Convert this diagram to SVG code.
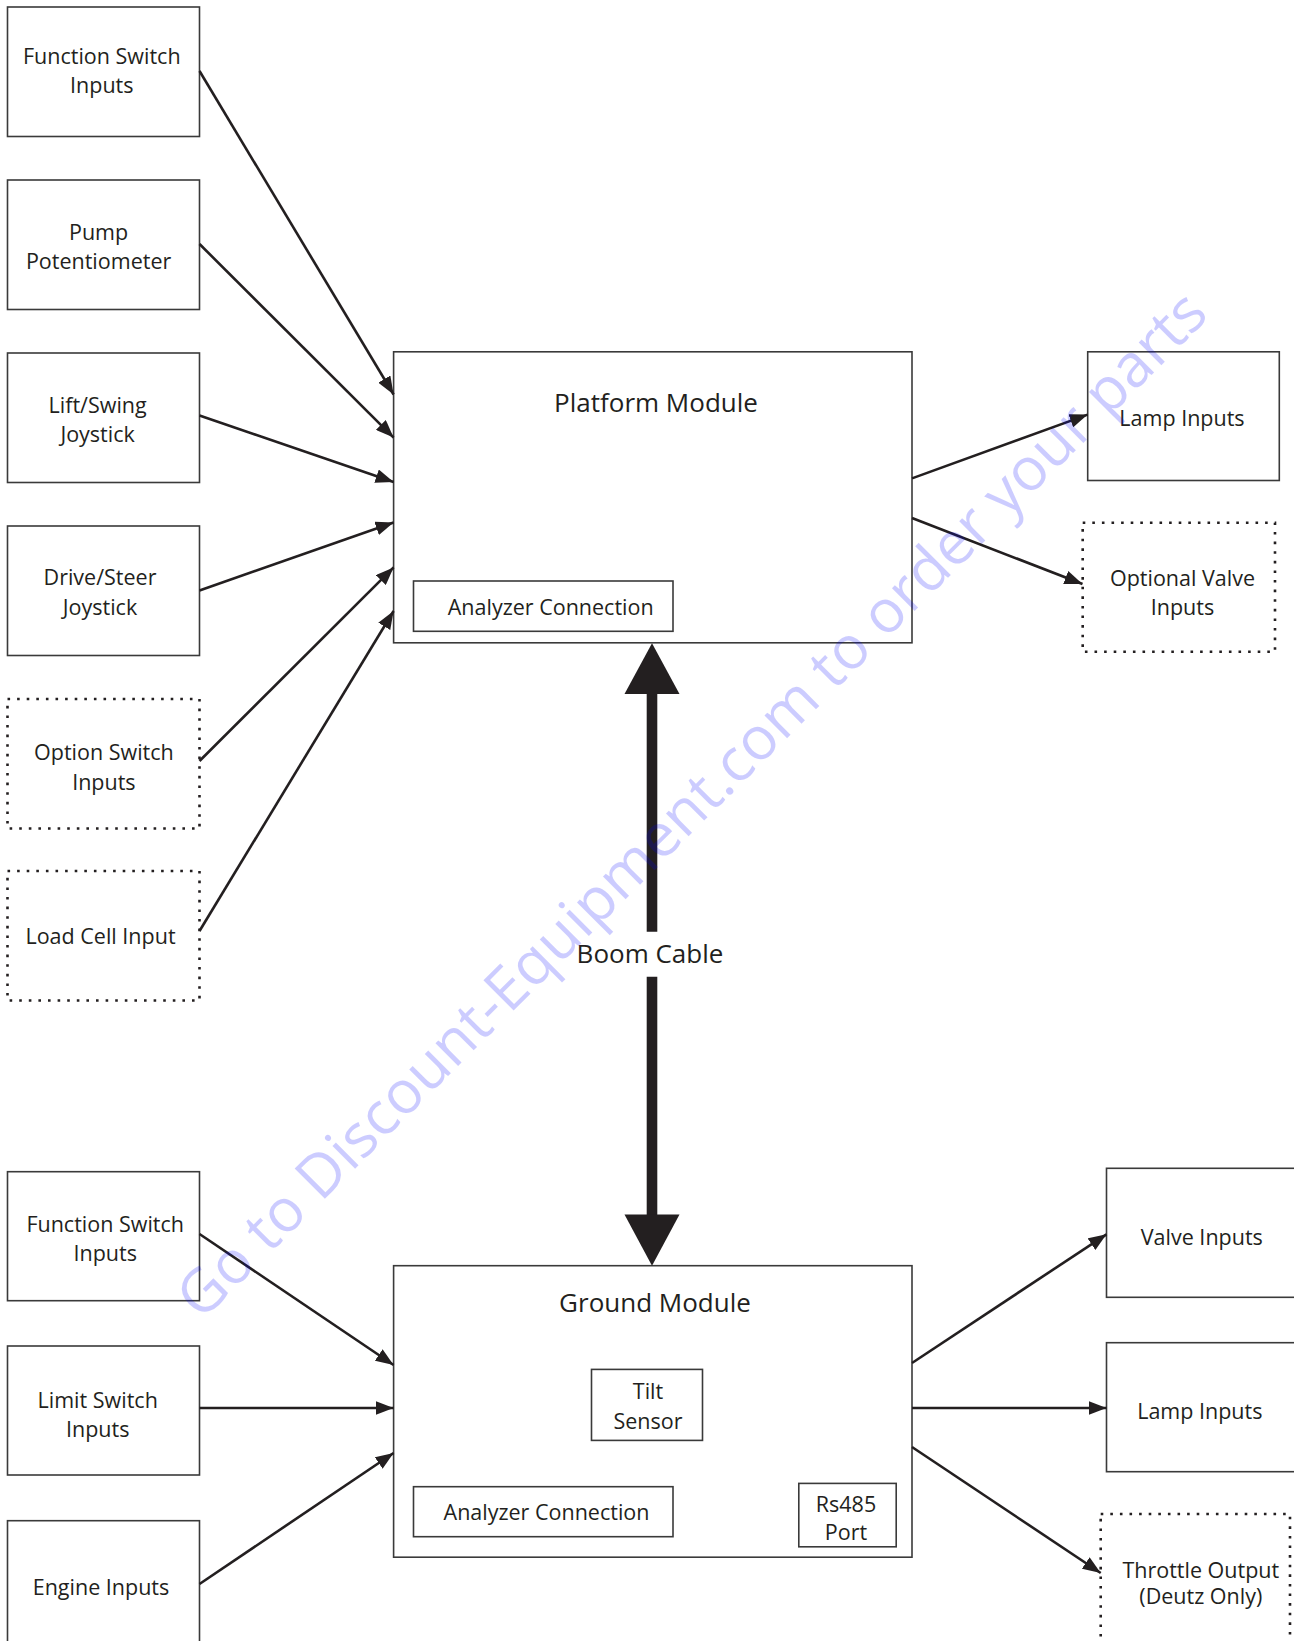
<svg xmlns="http://www.w3.org/2000/svg" width="1294" height="1641" viewBox="0 0 1294 1641">
<style>
.box{fill:#fff;stroke:#3a3a3a;stroke-width:1.6}
.dot{fill:#fff;stroke:#231f20;stroke-width:2.6;stroke-dasharray:2.6 7}
.t{font-family:"Open Sans","Noto Sans",sans-serif;font-size:21.5px;fill:#231f20;text-anchor:middle}
.title{font-size:26px}
.c{stroke:#231f20;stroke-width:2.6;fill:none;marker-end:url(#ah)}
.wm{font-family:"Open Sans","Noto Sans",sans-serif;font-size:60px;fill:#0000ff;fill-opacity:0.2;text-anchor:middle}
</style>
<defs>
<marker id="ah" markerUnits="userSpaceOnUse" markerWidth="20" markerHeight="14" refX="18" refY="7" orient="auto">
<path d="M0,0 L18,7 L0,14 Z" fill="#231f20"/>
</marker>
</defs>
<rect width="1294" height="1641" fill="#fff"/>

<g id="pf-function-switch"><rect class="box" x="7.5" y="7" width="192" height="129.5"/><text class="t" x="101.8" y="64">Function Switch</text><text class="t" x="101.8" y="93">Inputs</text></g>
<g id="pf-pump"><rect class="box" x="7.5" y="180" width="192" height="129.5"/><text class="t" x="98.6" y="240">Pump</text><text class="t" x="98.6" y="269">Potentiometer</text></g>
<g id="pf-lift"><rect class="box" x="7.5" y="353" width="192" height="129.5"/><text class="t" x="97.6" y="412.7">Lift/Swing</text><text class="t" x="97.6" y="442">Joystick</text></g>
<g id="pf-drive"><rect class="box" x="7.5" y="526" width="192" height="129.5"/><text class="t" x="100" y="585.4">Drive/Steer</text><text class="t" x="100" y="614.7">Joystick</text></g>
<g id="pf-option"><rect class="dot" x="7.5" y="699" width="192" height="129.5"/><text class="t" x="103.9" y="760">Option Switch</text><text class="t" x="103.9" y="789.5">Inputs</text></g>
<g id="pf-loadcell"><rect class="dot" x="7.5" y="871" width="192" height="129.5"/><text class="t" x="100.5" y="943.5">Load Cell Input</text></g>

<g id="platform-module"><rect class="box" x="393.6" y="351.8" width="518.4" height="291"/><text class="t title" x="656" y="411.7">Platform Module</text>
<g id="pf-analyzer"><rect class="box" x="413.5" y="581" width="259.5" height="50.3"/><text class="t" x="550.7" y="615">Analyzer Connection</text></g></g>

<g id="pf-lamp"><rect class="box" x="1087.7" y="351.8" width="191.6" height="128.7"/><text class="t" x="1182" y="426">Lamp Inputs</text></g>
<g id="pf-optional-valve"><rect class="dot" x="1082.7" y="522.7" width="192.3" height="129"/><text class="t" x="1182.5" y="585.7">Optional Valve</text><text class="t" x="1182.5" y="615">Inputs</text></g>

<g id="gr-function-switch"><rect class="box" x="7.5" y="1171.7" width="192" height="129"/><text class="t" x="105.2" y="1231.7">Function Switch</text><text class="t" x="105.2" y="1260.7">Inputs</text></g>
<g id="gr-limit"><rect class="box" x="7.5" y="1346" width="192" height="129"/><text class="t" x="97.7" y="1407.7">Limit Switch</text><text class="t" x="97.7" y="1436.7">Inputs</text></g>
<g id="gr-engine"><rect class="box" x="7.5" y="1520.7" width="192" height="140"/><text class="t" x="101" y="1595">Engine Inputs</text></g>

<g id="ground-module"><rect class="box" x="393.6" y="1265.7" width="518.4" height="291.5"/><text class="t title" x="655" y="1311.7">Ground Module</text>
<g id="gr-tilt"><rect class="box" x="591.5" y="1369.4" width="111" height="71"/><text class="t" x="648" y="1399.3">Tilt</text><text class="t" x="648" y="1429.3">Sensor</text></g>
<g id="gr-analyzer"><rect class="box" x="413.5" y="1486.7" width="259.5" height="50"/><text class="t" x="546.5" y="1520">Analyzer Connection</text></g>
<g id="gr-rs485"><rect class="box" x="798.8" y="1483.4" width="97.4" height="63.4"/><text class="t" x="846" y="1511.7">Rs485</text><text class="t" x="846" y="1540">Port</text></g></g>

<g id="gr-valve"><rect class="box" x="1106.5" y="1168.3" width="200" height="129"/><text class="t" x="1201.8" y="1245">Valve Inputs</text></g>
<g id="gr-lamp"><rect class="box" x="1106.5" y="1342.7" width="200" height="129"/><text class="t" x="1199.8" y="1419.3">Lamp Inputs</text></g>
<g id="gr-throttle"><rect class="dot" x="1100.7" y="1514" width="189.3" height="160"/><text class="t" x="1200.8" y="1577.7">Throttle Output</text><text class="t" x="1200.8" y="1604">(Deutz Only)</text></g>

<g id="connectors">
<path class="c" d="M199.5,71 L393.6,394.5"/>
<path class="c" d="M199.5,244 L393.6,437.6"/>
<path class="c" d="M199.5,415.5 L393.6,482"/>
<path class="c" d="M199.5,590.5 L393.6,522.4"/>
<path class="c" d="M199.5,761 L393.6,567.4"/>
<path class="c" d="M199.5,931 L393.6,611"/>
<path class="c" d="M912,478.4 L1087.7,414.6"/>
<path class="c" d="M912,518 L1082.5,584"/>
<path class="c" d="M199.5,1234 L393.6,1365"/>
<path class="c" d="M199.5,1408 L393.6,1408"/>
<path class="c" d="M199.5,1584 L393.6,1453"/>
<path class="c" d="M912,1363 L1106.5,1234.3"/>
<path class="c" d="M912,1408 L1106.5,1408"/>
<path class="c" d="M912,1447 L1100.7,1573"/>
<g id="boom-cable">
<path d="M652,692 L652,931.7 M652,976.8 L652,1216" stroke="#231f20" stroke-width="10.6" fill="none"/>
<polygon points="652,643.3 624.5,694 679.5,694" fill="#231f20"/>
<polygon points="652,1265.7 624.5,1214.5 679.5,1214.5" fill="#231f20"/>
<text class="t title" x="650" y="963">Boom Cable</text>
</g>
</g>

<text class="wm" transform="translate(706,819) rotate(-44.9)">Go to Discount-Equipment.com to order your parts</text>
</svg>
